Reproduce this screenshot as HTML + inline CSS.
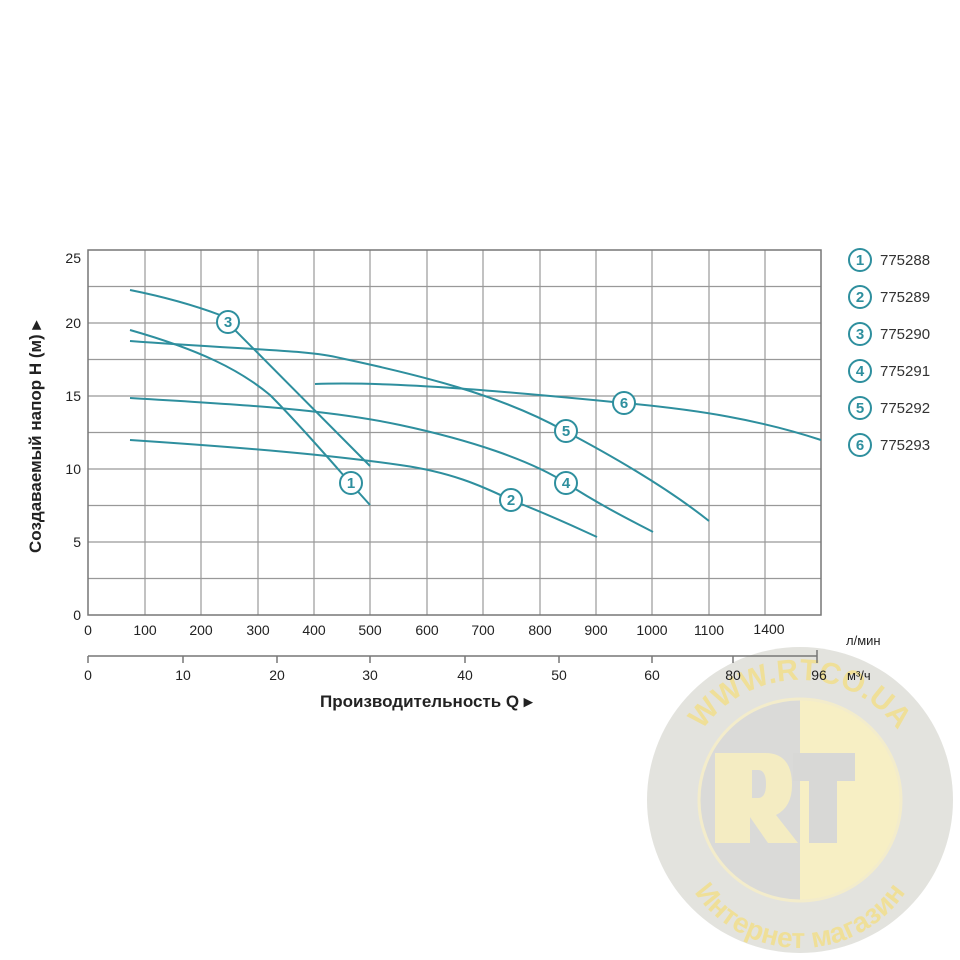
<!DOCTYPE html>
<html><head><meta charset="utf-8"><style>
html,body{margin:0;padding:0;background:#fff;}
svg{display:block;font-family:"Liberation Sans",sans-serif;}
</style></head><body>
<svg width="960" height="960" viewBox="0 0 960 960" xmlns="http://www.w3.org/2000/svg">
<rect width="960" height="960" fill="#fff"/>
<!-- watermark -->
<circle cx="800" cy="800" r="153" fill="#e3e3de"/>
<path d="M800 700 A100 100 0 0 0 800 900 Z" fill="#dadad8"/>
<path d="M800 700 A100 100 0 0 1 800 900 Z" fill="#f7efc4"/>
<circle cx="800" cy="800" r="101" fill="none" stroke="#f3eccb" stroke-width="3"/>
<path d="M715 753 h50 q27 0 27 32 q0 22 -16 30 l22 28 h-30 l-18 -26 v26 h-35 Z M752 770 v28 h6 q8 0 8 -14 q0 -14 -8 -14 Z" fill="#f4ecc2" fill-rule="evenodd"/>
<path d="M793 753 h62 v28 h-18 v62 h-28 v-62 h-16 Z" fill="#d8d8d6"/>
<path id="arc1" d="M680 800 A120 120 0 0 1 920 800" fill="none"/>
<path id="arc2" d="M672 820 A128 128 0 0 0 928 820" fill="none"/>
<text font-size="30" font-weight="bold" fill="#efdf98" text-anchor="middle">
<textPath href="#arc1" startOffset="50%">WWW.RTCO.UA</textPath></text>
<text font-size="28" font-weight="bold" fill="#efdf98" text-anchor="middle">
<textPath href="#arc2" startOffset="50%">Интернет магазин</textPath></text>

<!-- grid -->
<g stroke="#999" stroke-width="1.2">
<line x1="88" y1="286.5" x2="821" y2="286.5"/><line x1="88" y1="323" x2="821" y2="323"/>
<line x1="88" y1="359.5" x2="821" y2="359.5"/><line x1="88" y1="396" x2="821" y2="396"/>
<line x1="88" y1="432.5" x2="821" y2="432.5"/><line x1="88" y1="469" x2="821" y2="469"/>
<line x1="88" y1="505.5" x2="821" y2="505.5"/><line x1="88" y1="542" x2="821" y2="542"/>
<line x1="88" y1="578.5" x2="821" y2="578.5"/>
<line x1="145" y1="250" x2="145" y2="615"/><line x1="201" y1="250" x2="201" y2="615"/>
<line x1="258" y1="250" x2="258" y2="615"/><line x1="314" y1="250" x2="314" y2="615"/>
<line x1="370" y1="250" x2="370" y2="615"/><line x1="427" y1="250" x2="427" y2="615"/>
<line x1="483" y1="250" x2="483" y2="615"/><line x1="540" y1="250" x2="540" y2="615"/>
<line x1="596" y1="250" x2="596" y2="615"/><line x1="652" y1="250" x2="652" y2="615"/>
<line x1="709" y1="250" x2="709" y2="615"/><line x1="765" y1="250" x2="765" y2="615"/>
</g>
<rect x="88" y="250" width="733" height="365" fill="none" stroke="#777" stroke-width="1.5"/>

<!-- y ticks -->
<g font-size="14" fill="#222" text-anchor="end">
<text x="81" y="263">25</text><text x="81" y="328">20</text><text x="81" y="401">15</text>
<text x="81" y="474">10</text><text x="81" y="547">5</text><text x="81" y="620">0</text>
</g>
<text transform="translate(41,437) rotate(-90)" font-size="17" font-weight="bold" fill="#222" text-anchor="middle">Создаваемый напор H (м) ▸</text>

<!-- x ticks lpm -->
<g font-size="14" fill="#222" text-anchor="middle">
<text x="88" y="635">0</text><text x="145" y="635">100</text><text x="201" y="635">200</text>
<text x="258" y="635">300</text><text x="314" y="635">400</text><text x="370" y="635">500</text>
<text x="427" y="635">600</text><text x="483" y="635">700</text><text x="540" y="635">800</text>
<text x="596" y="635">900</text><text x="652" y="635">1000</text><text x="709" y="635">1100</text>
<text x="769" y="634">1400</text>
</g>
<text x="846" y="645" font-size="13" fill="#222">л/мин</text>
<!-- m3/h axis -->
<line x1="88" y1="656" x2="817" y2="656" stroke="#777" stroke-width="1.5"/>
<g stroke="#777" stroke-width="1.5">
<line x1="88" y1="656" x2="88" y2="663"/><line x1="183" y1="656" x2="183" y2="663"/>
<line x1="277" y1="656" x2="277" y2="663"/><line x1="370" y1="656" x2="370" y2="663"/>
<line x1="465" y1="656" x2="465" y2="663"/><line x1="559" y1="656" x2="559" y2="663"/>
<line x1="652" y1="656" x2="652" y2="663"/><line x1="733" y1="656" x2="733" y2="663"/>
<line x1="817" y1="650" x2="817" y2="663"/>
</g>
<g font-size="14" fill="#222" text-anchor="middle">
<text x="88" y="680">0</text><text x="183" y="680">10</text><text x="277" y="680">20</text>
<text x="370" y="680">30</text><text x="465" y="680">40</text><text x="559" y="680">50</text>
<text x="652" y="680">60</text><text x="733" y="680">80</text><text x="819" y="680">96</text>
</g>
<text x="847" y="680" font-size="13" fill="#222">м³/ч</text>
<text x="320" y="707" font-size="17" font-weight="bold" fill="#222">Производительность Q ▸</text>

<!-- curves -->
<g fill="none" stroke="#2e8f9e" stroke-width="2">
<path d="M130 290 Q180 300 220 315 L370 466"/>
<path d="M130 330 C200 350 240 370 270 395 C300 425 330 460 352 485 L370 505"/>
<path d="M130 341 C250 350 310 350 340 358 C420 375 500 395 563 430 C620 460 670 490 709 521"/>
<path d="M315 384 C400 381 520 393 624 403 C700 410 760 420 821 440"/>
<path d="M130 398 C250 405 330 410 400 425 C470 440 530 460 566 483 C600 505 630 520 653 532"/>
<path d="M130 440 C250 448 330 455 400 465 C450 472 480 485 511 500 C550 515 575 527 597 537"/>
</g>
<g font-size="15" font-weight="bold" fill="#2e8f9e" text-anchor="middle">
<circle cx="228" cy="322" r="11" fill="#fff" stroke="#2e8f9e" stroke-width="2"/><text x="228" y="327">3</text>
<circle cx="351" cy="483" r="11" fill="#fff" stroke="#2e8f9e" stroke-width="2"/><text x="351" y="488">1</text>
<circle cx="566" cy="431" r="11" fill="#fff" stroke="#2e8f9e" stroke-width="2"/><text x="566" y="436">5</text>
<circle cx="624" cy="403" r="11" fill="#fff" stroke="#2e8f9e" stroke-width="2"/><text x="624" y="408">6</text>
<circle cx="566" cy="483" r="11" fill="#fff" stroke="#2e8f9e" stroke-width="2"/><text x="566" y="488">4</text>
<circle cx="511" cy="500" r="11" fill="#fff" stroke="#2e8f9e" stroke-width="2"/><text x="511" y="505">2</text>
</g>
<!-- legend -->
<g font-size="15" fill="#2e8f9e" text-anchor="middle" font-weight="bold">
<circle cx="860" cy="260" r="11" fill="#fff" stroke="#2e8f9e" stroke-width="2"/><text x="860" y="265">1</text>
<circle cx="860" cy="297" r="11" fill="#fff" stroke="#2e8f9e" stroke-width="2"/><text x="860" y="302">2</text>
<circle cx="860" cy="334" r="11" fill="#fff" stroke="#2e8f9e" stroke-width="2"/><text x="860" y="339">3</text>
<circle cx="860" cy="371" r="11" fill="#fff" stroke="#2e8f9e" stroke-width="2"/><text x="860" y="376">4</text>
<circle cx="860" cy="408" r="11" fill="#fff" stroke="#2e8f9e" stroke-width="2"/><text x="860" y="413">5</text>
<circle cx="860" cy="445" r="11" fill="#fff" stroke="#2e8f9e" stroke-width="2"/><text x="860" y="450">6</text>
</g>
<g font-size="15" fill="#333">
<text x="880" y="265">775288</text><text x="880" y="302">775289</text><text x="880" y="339">775290</text>
<text x="880" y="376">775291</text><text x="880" y="413">775292</text><text x="880" y="450">775293</text>
</g>
</svg>
</body></html>
